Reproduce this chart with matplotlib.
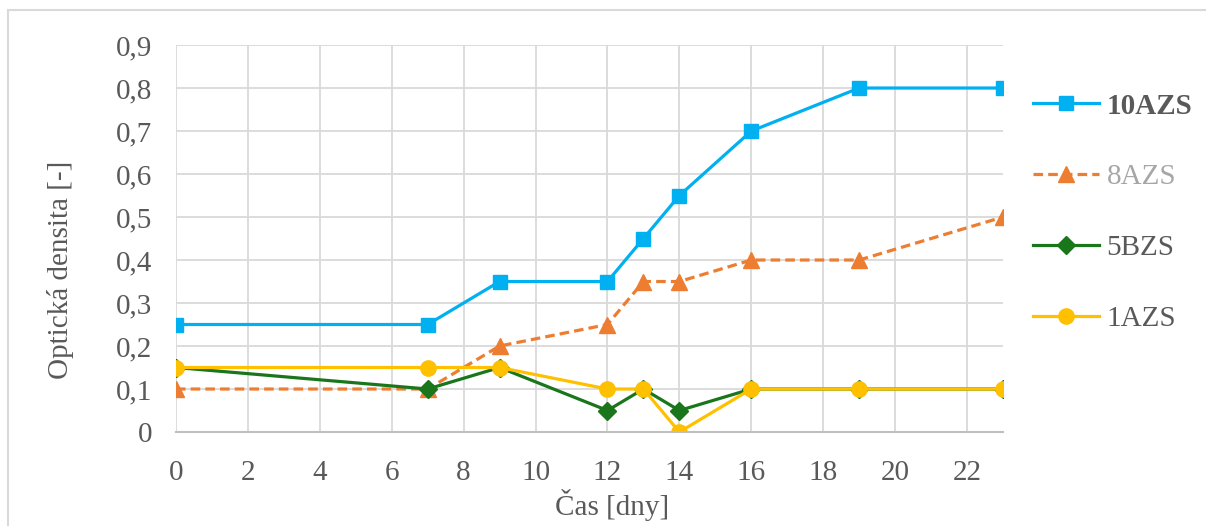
import matplotlib.pyplot as plt
from matplotlib.patches import Rectangle
from matplotlib.ticker import MultipleLocator, FuncFormatter

plt.rcParams['font.family'] = ['Liberation Serif', 'DejaVu Serif']

# cas [dny]
dny = [0, 7, 9, 12, 13, 14, 16, 19, 23]

# opticka densita jednotlivych vzorku
azs10 = [0.25, 0.25, 0.35, 0.35, 0.45, 0.55, 0.7, 0.8, 0.8]
azs8 = [0.1, 0.1, 0.2, 0.25, 0.35, 0.35, 0.4, 0.4, 0.5]
bzs5 = [0.15, 0.1, 0.15, 0.05, 0.1, 0.05, 0.1, 0.1, 0.1]
azs1 = [0.15, 0.15, 0.15, 0.1, 0.1, 0.0, 0.1, 0.1, 0.1]

seda = '#595959'
fs = 21

fig = plt.figure(figsize=(12.06, 5.26), dpi=100)
ax = fig.add_axes([0.1459, 0.1787, 0.6858, 0.7357])

# ramecek grafu
fig.patches.append(Rectangle((8 / 1206, -0.1), 1.2, 1 - 10 / 526 + 0.1,
                             transform=fig.transFigure, fill=False,
                             edgecolor='#D9D9D9', linewidth=1.5))

ax.plot(dny, azs10, color='#00B0F0', lw=2.3, marker='s', ms=10, label='10AZS')
ax.plot(dny, azs8, color='#ED7D31', lw=2.3, ls=(0, (3, 1.6)), marker='^', ms=11, label='8AZS')
ax.plot(dny, bzs5, color='#1A761A', lw=2.3, marker='D', ms=9, label='5BZS')
ax.plot(dny, azs1, color='#FFC000', lw=2.3, marker='o', ms=11, label='1AZS')

ax.set_xlim(0, 23)
ax.set_ylim(0, 0.9)
ax.xaxis.set_major_locator(MultipleLocator(2))
ax.yaxis.set_major_locator(MultipleLocator(0.1))
ax.yaxis.set_major_formatter(FuncFormatter(lambda v, p: '0' if abs(v) < 1e-9 else f'{v:.1f}'.replace('.', ',')))

ax.grid(True, color='#D9D9D9', lw=1.3)
ax.set_axisbelow(True)
for s in ['top', 'right', 'left']:
    ax.spines[s].set_visible(False)
ax.spines['bottom'].set_color('#BFBFBF')
ax.spines['bottom'].set_linewidth(1.5)
ax.tick_params(length=0, labelsize=fs, labelcolor=seda)
ax.tick_params(axis='x', pad=20)
ax.tick_params(axis='y', pad=17)
for lab in ax.get_yticklabels() + ax.get_xticklabels():
    lab.set_clip_on(False)

ax.set_xlabel('Čas [dny]', fontsize=fs, color=seda, va='center')
ax.set_ylabel('Optická densita [-]', fontsize=fs, color=seda, va='center')
ax.xaxis.set_label_coords(0.527, -0.189)
ax.yaxis.set_label_coords(-0.140, 0.419)

leg = fig.legend(loc='upper left', bbox_to_anchor=(1018 / 1206, 1 - 78 / 526),
                 frameon=False, fontsize=fs, handlelength=2.27, handletextpad=0.27,
                 labelspacing=1.52, borderpad=0)
barvy = [seda, '#A6A6A6', seda, seda]
for t, c in zip(leg.get_texts(), barvy):
    t.set_color(c)
leg.get_texts()[0].set_fontweight('bold')

fig.savefig('out.png', dpi=100)
